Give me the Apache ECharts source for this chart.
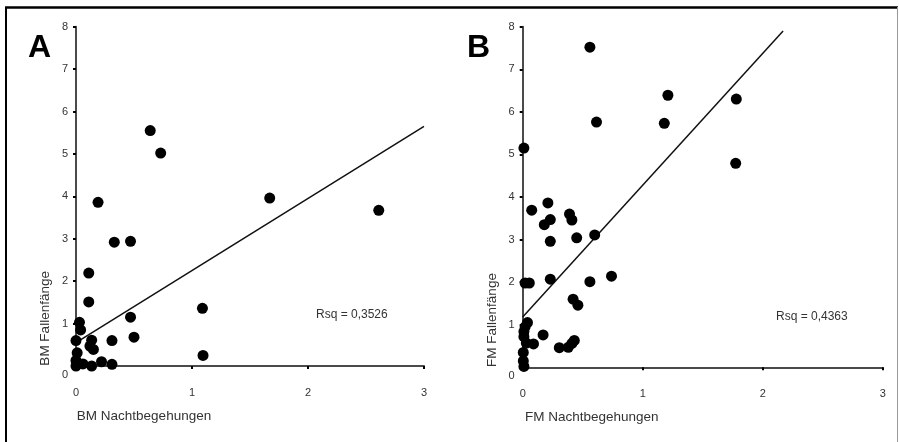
<!DOCTYPE html>
<html>
<head>
<meta charset="utf-8">
<script src="https://cdn.jsdelivr.net/npm/echarts@6/dist/echarts.min.js"></script>
<style>
  html, body { margin: 0; padding: 0; background: #fff; }
  #chart { width: 899px; height: 442px; }
</style>
</head>
<body>
<div id="chart"></div>
<script>
// Panel A: BM
var bmNacht = [0.64, 0.73, 0.19, 1.67, 2.61, 0.33, 0.47, 0.11, 0.11, 1.09, 0.47, 0.03, 0.04, 0.00, 0.135, 0.12, 0.15, 0.31, 0.50, 1.095, 0.01, 0.00, 0.06, 0.135, 0.22, 0.31, 0.00];
var bmFallen = [5.55, 5.02, 3.86, 3.96, 3.67, 2.92, 2.94, 2.19, 1.51, 1.36, 1.15, 1.03, 0.85, 0.60, 0.61, 0.47, 0.39, 0.60, 0.68, 0.25, 0.31, 0.13, 0.05, 0.00, 0.10, 0.04, 0.00];
var bmTrend = [[0, 0.55], [3, 5.65]];
var bmRsq = 'Rsq = 0,3526';

// Panel B: FM
var fmNacht = [0.56, 1.21, 1.78, 0.615, 1.18, 0.01, 1.775, 0.075, 0.21, 0.18, 0.23, 0.39, 0.41, 0.23, 0.45, 0.60, 0.02, 0.055, 0.23, 0.56, 0.74, 0.42, 0.46, 0.04, 0.02, 0.01, 0.01, 0.03, 0.09, 0.17, 0.305, 0.38, 0.41, 0.43, 0.005, 0.005, 0.01];
var fmFallen = [7.52, 6.39, 6.30, 5.76, 5.73, 5.15, 4.79, 3.69, 3.86, 3.35, 3.47, 3.60, 3.46, 2.96, 3.04, 3.11, 1.98, 1.98, 2.07, 2.01, 2.14, 1.60, 1.46, 1.05, 0.95, 0.84, 0.72, 0.57, 0.55, 0.76, 0.46, 0.47, 0.56, 0.63, 0.35, 0.15, 0.02];
var fmTrend = [[0, 1.18], [2.17, 7.9]];
var fmRsq = 'Rsq = 0,4363';

var xTicks = [0, 1, 2, 3];
var yTicks = [0, 1, 2, 3, 4, 5, 6, 7, 8];

function pairs(xs, ys) {
    var out = [];
    xs.forEach(function(x, i) { out.push([x, ys[i]]); });
    return out;
}

var font = '"Liberation Sans", Arial, sans-serif';

function makeX(idx, name, pad) {
    return {
        gridIndex: idx, type: 'value',
        min: xTicks[0], max: xTicks[xTicks.length - 1], interval: 1,
        splitLine: { show: false },
        axisLine: { onZero: false, lineStyle: { color: '#4a4a4a', width: 2 } },
        axisTick: { show: true, length: 3, lineStyle: { color: '#000', width: 2 } },
        axisLabel: { margin: 21, color: '#333', fontSize: 11, fontFamily: font },
        name: name, nameLocation: 'middle', nameGap: 43,
        nameTextStyle: { color: '#333', fontSize: 13.5, fontFamily: font, padding: [0, pad, 0, 0] }
    };
}

function makeY(idx, name, pad, gap) {
    return {
        gridIndex: idx, type: 'value',
        min: yTicks[0], max: yTicks[yTicks.length - 1], interval: 1,
        splitLine: { show: false },
        axisLine: { onZero: false, lineStyle: { color: '#4a4a4a', width: 2 } },
        axisTick: { show: true, length: 3, lineStyle: { color: '#000', width: 2 } },
        axisLabel: {
            margin: 8, color: '#333', fontSize: 11, fontFamily: font,
            formatter: function(v) { return v === 0 ? '{z|0}' : String(v); },
            rich: { z: { padding: [18, 0, 0, 0], color: '#333', fontSize: 11, fontFamily: font } }
        },
        name: name, nameLocation: 'middle', nameGap: gap,
        nameTextStyle: { color: '#333', fontSize: 13.5, fontFamily: font, padding: [0, pad, 0, 0] }
    };
}

var myChart = echarts.init(document.getElementById('chart'));

option = {
    backgroundColor: '#fff',
    animation: false,
    grid: [
        { left: 76, top: 26.7, width: 348, height: 339.3 },
        { left: 522.7, top: 26.7, width: 360, height: 340.6 }
    ],
    xAxis: [makeX(0, 'BM Nachtbegehungen', 212), makeX(1, 'FM Nachtbegehungen', 222)],
    yAxis: [makeY(0, 'BM Fallenfänge', 244, 24), makeY(1, 'FM Fallenfänge', 246, 23)],
    series: [
        {
            type: 'scatter', xAxisIndex: 0, yAxisIndex: 0, clip: false,
            symbolSize: 11, itemStyle: { color: '#000', opacity: 1 },
            data: pairs(bmNacht, bmFallen), z: 3
        },
        {
            type: 'line', xAxisIndex: 0, yAxisIndex: 0, showSymbol: false,
            lineStyle: { color: '#111', width: 1.5 }, data: bmTrend, z: 2
        },
        {
            type: 'scatter', xAxisIndex: 1, yAxisIndex: 1, clip: false,
            symbolSize: 11, itemStyle: { color: '#000', opacity: 1 },
            data: pairs(fmNacht, fmFallen), z: 3
        },
        {
            type: 'line', xAxisIndex: 1, yAxisIndex: 1, showSymbol: false,
            lineStyle: { color: '#111', width: 1.5 }, data: fmTrend, z: 2
        }
    ],
    graphic: [
        // frame
        { type: 'line', shape: { x1: 6, y1: 7, x2: 6, y2: 442 }, style: { stroke: '#000', lineWidth: 2 } },
        { type: 'line', shape: { x1: 5, y1: 7.5, x2: 898, y2: 7.5 }, style: { stroke: '#000', lineWidth: 2.5 } },
        { type: 'line', shape: { x1: 897.5, y1: 7, x2: 897.5, y2: 442 }, style: { stroke: '#999', lineWidth: 1 } },
        // panel letters
        { type: 'text', x: 28, y: 48.5, style: { text: 'A', font: 'bold 32px ' + font, fill: '#000', verticalAlign: 'middle' } },
        { type: 'text', x: 467, y: 48.5, style: { text: 'B', font: 'bold 32px ' + font, fill: '#000', verticalAlign: 'middle' } },
        // R squared
        { type: 'text', x: 316, y: 315, style: { text: bmRsq, font: '12px ' + font, fill: '#333', verticalAlign: 'middle' } },
        { type: 'text', x: 776, y: 317, style: { text: fmRsq, font: '12px ' + font, fill: '#333', verticalAlign: 'middle' } }
    ]
};

myChart.setOption(option);
</script>
</body>
</html>
